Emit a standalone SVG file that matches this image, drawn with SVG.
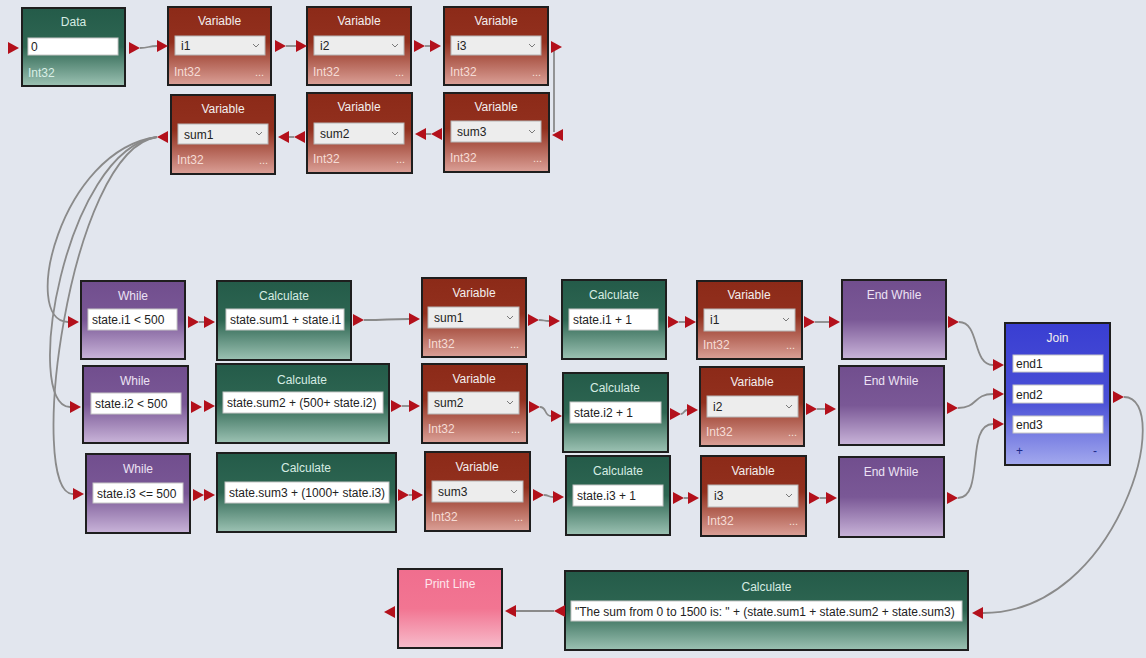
<svg xmlns="http://www.w3.org/2000/svg" xmlns:xlink="http://www.w3.org/1999/xlink" width="1146" height="658" viewBox="0 0 1146 658">
  <defs>
    <linearGradient id="gVar" x1="0" y1="0" x2="0" y2="1">
      <stop offset="0" stop-color="#8c2a18"/>
      <stop offset="0.45" stop-color="#92301e"/>
      <stop offset="1" stop-color="#dba097"/>
    </linearGradient>
    <linearGradient id="gCalc" x1="0" y1="0" x2="0" y2="1">
      <stop offset="0" stop-color="#245b49"/>
      <stop offset="0.5" stop-color="#2e6652"/>
      <stop offset="1" stop-color="#9cc2b3"/>
    </linearGradient>
    <linearGradient id="gWhile" x1="0" y1="0" x2="0" y2="1">
      <stop offset="0" stop-color="#714e8e"/>
      <stop offset="0.5" stop-color="#7a5896"/>
      <stop offset="1" stop-color="#c9b4d9"/>
    </linearGradient>
    <linearGradient id="gJoin" x1="0" y1="0" x2="0" y2="1">
      <stop offset="0" stop-color="#393ed2"/>
      <stop offset="0.55" stop-color="#4a50d6"/>
      <stop offset="1" stop-color="#a3a9ee"/>
    </linearGradient>
    <linearGradient id="gPrint" x1="0" y1="0" x2="0" y2="1">
      <stop offset="0" stop-color="#f06e8e"/>
      <stop offset="0.5" stop-color="#f27592"/>
      <stop offset="1" stop-color="#f7bccb"/>
    </linearGradient>
    <!-- port triangles: origin at left edge, vertical centre -->
    <path id="pr" d="M0,-6 L11,0 L0,6 Z" fill="#b3101b"/>
    <path id="pl" d="M0,0 L11,-6 L11,6 Z" fill="#b3101b"/>
    <style>
      text { font-family: "Liberation Sans", Arial, sans-serif; font-size: 12px; }
      .body { stroke: #1e1e1e; stroke-width: 2; }
      .var { fill: url(#gVar); }
      .calc { fill: url(#gCalc); }
      .loop { fill: url(#gWhile); }
      .join { fill: url(#gJoin); }
      .print { fill: url(#gPrint); }
      .title { text-anchor: middle; fill: #f3eeee; }
      .tcalc { fill: #d6ece3; }
      .tloop { fill: #ece2f4; }
      .tprint { fill: #fde6ec; }
      .box { fill: #ffffff; stroke: #c6c6c6; stroke-width: 1; }
      .dd { fill: #ededed; stroke: #b5b5b5; stroke-width: 1; }
      .val { fill: #222222; }
      .type { fill: #f6dcd5; }
      .typec { fill: #d9efe6; }
      .dots { fill: #f6e2dc; font-size: 11px; }
      .chev { fill: none; stroke: #7a7a7a; stroke-width: 1; }
      .wire { fill: none; stroke: #8a8a8a; stroke-width: 1.8; }
      .pm { fill: #1e2a8a; font-size: 12px; }
    </style>
  </defs>

  <rect x="0" y="0" width="1146" height="658" fill="#e2e6ee"/>

  <!-- connectors -->
  <g id="connectors">
    <path class="wire" d="M140,48 C149,48 148,46 157,46"/>
    <path class="wire" d="M286,46 L296,46"/>
    <path class="wire" d="M425,46 L430,46"/>
    <path class="wire" d="M554,50 L554,132"/>
    <path class="wire" d="M426,134 L431,134"/>
    <path class="wire" d="M289,137 L294,137"/>
    <!-- sum1 feeds the three loops -->
    <path class="wire" d="M157,137 C60,150 20,322 68,322"/>
    <path class="wire" d="M157,137 C64,150 22,407 70,407"/>
    <path class="wire" d="M157,137 C68,150 26,494 73,494"/>
    <!-- loop 1 -->
    <path class="wire" d="M199,322 L204,322"/>
    <path class="wire" d="M364,320 C388,320 386,319 409,319"/>
    <path class="wire" d="M539,320 C545,320 543,321 549,321"/>
    <path class="wire" d="M679,322 L685,322"/>
    <path class="wire" d="M815,322 L829,322"/>
    <path class="wire" d="M959,322 C980,322 972,365 993,365"/>
    <!-- loop 2 -->
    <path class="wire" d="M402,406 L409,406"/>
    <path class="wire" d="M540,407 C547,407 544,416 551,416"/>
    <path class="wire" d="M681,414 C684,414 684,410 687,410"/>
    <path class="wire" d="M817,409 L825,409"/>
    <path class="wire" d="M958,408 C978,408 973,394 993,394"/>
    <!-- loop 3 -->
    <path class="wire" d="M409,495 L412,495"/>
    <path class="wire" d="M544,495 C549,495 548,497 553,497"/>
    <path class="wire" d="M684,498 L688,498"/>
    <path class="wire" d="M820,498 L826,498"/>
    <path class="wire" d="M958,498 C985,498 965,424 993,424"/>
    <!-- join to result -->
    <path class="wire" d="M1124,397 C1175,397 1120,613 983,613"/>
    <path class="wire" d="M516,611 C535,611 535,611 554,611"/>
  </g>

  <!-- top row -->
  <g id="data">
    <rect class="body calc" x="22" y="8" width="103" height="78"/>
    <text class="title tcalc" x="73.5" y="26">Data</text>
    <rect class="box" x="28" y="38" width="90" height="17"/>
    <text class="val" x="31" y="51">0</text>
    <text class="typec" x="28" y="77">Int32</text>
    <use href="#pr" x="8" y="48"/>
    <use href="#pr" x="129" y="48"/>
  </g>
  <g id="var-i1">
    <rect class="body var" x="168" y="7" width="103" height="78"/>
    <text class="title" x="219.5" y="25">Variable</text>
    <rect class="dd" x="175" y="36" width="90" height="19"/>
    <text class="val" x="181" y="50">i1</text>
    <polyline class="chev" points="253,44 256,47 259,44"/>
    <text class="type" x="174" y="76">Int32</text>
    <text class="dots" x="255" y="76">...</text>
    <use href="#pr" x="157" y="46"/>
    <use href="#pr" x="275" y="46"/>
  </g>
  <g id="var-i2">
    <rect class="body var" x="307" y="7" width="104" height="78"/>
    <text class="title" x="359" y="25">Variable</text>
    <rect class="dd" x="314" y="36" width="90" height="19"/>
    <text class="val" x="320" y="50">i2</text>
    <polyline class="chev" points="392,44 395,47 398,44"/>
    <text class="type" x="313" y="76">Int32</text>
    <text class="dots" x="395" y="76">...</text>
    <use href="#pr" x="296" y="46"/>
    <use href="#pr" x="414" y="46"/>
  </g>
  <g id="var-i3">
    <rect class="body var" x="444" y="7" width="104" height="78"/>
    <text class="title" x="496" y="25">Variable</text>
    <rect class="dd" x="451" y="36" width="90" height="19"/>
    <text class="val" x="457" y="50">i3</text>
    <polyline class="chev" points="529,44 532,47 535,44"/>
    <text class="type" x="450" y="76">Int32</text>
    <text class="dots" x="532" y="76">...</text>
    <use href="#pr" x="430" y="46"/>
    <use href="#pr" x="551" y="47"/>
  </g>

  <!-- second row, flowing right to left -->
  <g id="var-sum3">
    <rect class="body var" x="444" y="93" width="105" height="79"/>
    <text class="title" x="496" y="111">Variable</text>
    <rect class="dd" x="451" y="121" width="90" height="21"/>
    <text class="val" x="457" y="136">sum3</text>
    <polyline class="chev" points="529,130 532,133 535,130"/>
    <text class="type" x="450" y="162">Int32</text>
    <text class="dots" x="533" y="162">...</text>
    <use href="#pl" x="552" y="135"/>
    <use href="#pl" x="431" y="134"/>
  </g>
  <g id="var-sum2">
    <rect class="body var" x="307" y="93" width="105" height="80"/>
    <text class="title" x="359" y="111">Variable</text>
    <rect class="dd" x="314" y="123" width="90" height="21"/>
    <text class="val" x="320" y="138">sum2</text>
    <polyline class="chev" points="392,132 395,135 398,132"/>
    <text class="type" x="313" y="163">Int32</text>
    <text class="dots" x="396" y="163">...</text>
    <use href="#pl" x="415" y="134"/>
    <use href="#pl" x="294" y="137"/>
  </g>
  <g id="var-sum1">
    <rect class="body var" x="171" y="95" width="104" height="79"/>
    <text class="title" x="223" y="113">Variable</text>
    <rect class="dd" x="178" y="124" width="90" height="20"/>
    <text class="val" x="184" y="139">sum1</text>
    <polyline class="chev" points="256,132 259,135 262,132"/>
    <text class="type" x="177" y="164">Int32</text>
    <text class="dots" x="259" y="164">...</text>
    <use href="#pl" x="278" y="137"/>
    <use href="#pl" x="157" y="137"/>
  </g>

  <!-- loop 1 -->
  <g id="while1">
    <rect class="body loop" x="81" y="281" width="104" height="78"/>
    <text class="title tloop" x="133" y="300">While</text>
    <rect class="box" x="88" y="309" width="89" height="21"/>
    <text class="val" x="92" y="324">state.i1 &lt; 500</text>
    <use href="#pr" x="68" y="322"/>
    <use href="#pr" x="188" y="322"/>
  </g>
  <g id="calc1">
    <rect class="body calc" x="217" y="281" width="134" height="79"/>
    <text class="title tcalc" x="284" y="300">Calculate</text>
    <rect class="box" x="226" y="309" width="118" height="21"/>
    <text class="val" x="230" y="324">state.sum1 + state.i1</text>
    <use href="#pr" x="204" y="322"/>
    <use href="#pr" x="353" y="320"/>
  </g>
  <g id="set-sum1">
    <rect class="body var" x="422" y="278" width="104" height="79"/>
    <text class="title" x="474" y="297">Variable</text>
    <rect class="dd" x="428" y="307" width="91" height="21"/>
    <text class="val" x="434" y="322">sum1</text>
    <polyline class="chev" points="507,316 510,319 513,316"/>
    <text class="type" x="428" y="348">Int32</text>
    <text class="dots" x="510" y="348">...</text>
    <use href="#pr" x="409" y="319"/>
    <use href="#pr" x="528" y="320"/>
  </g>
  <g id="inc1">
    <rect class="body calc" x="562" y="280" width="104" height="79"/>
    <text class="title tcalc" x="614" y="299">Calculate</text>
    <rect class="box" x="569" y="309" width="89" height="21"/>
    <text class="val" x="573" y="324">state.i1 + 1</text>
    <use href="#pr" x="549" y="321"/>
    <use href="#pr" x="668" y="322"/>
  </g>
  <g id="set-i1">
    <rect class="body var" x="697" y="281" width="105" height="78"/>
    <text class="title" x="749" y="299">Variable</text>
    <rect class="dd" x="704" y="309" width="91" height="22"/>
    <text class="val" x="710" y="324">i1</text>
    <polyline class="chev" points="783,318 786,321 789,318"/>
    <text class="type" x="703" y="349">Int32</text>
    <text class="dots" x="786" y="349">...</text>
    <use href="#pr" x="685" y="322"/>
    <use href="#pr" x="804" y="322"/>
  </g>
  <g id="endwhile1">
    <rect class="body loop" x="842" y="280" width="104" height="79"/>
    <text class="title tloop" x="894" y="299">End While</text>
    <use href="#pr" x="829" y="322"/>
    <use href="#pr" x="948" y="322"/>
  </g>

  <!-- loop 2 -->
  <g id="while2">
    <rect class="body loop" x="83" y="366" width="105" height="77"/>
    <text class="title tloop" x="135" y="385">While</text>
    <rect class="box" x="91" y="393" width="90" height="21"/>
    <text class="val" x="95" y="408">state.i2 &lt; 500</text>
    <use href="#pr" x="70" y="407"/>
    <use href="#pr" x="191" y="407"/>
  </g>
  <g id="calc2">
    <rect class="body calc" x="216" y="364" width="173" height="79"/>
    <text class="title tcalc" x="302" y="384">Calculate</text>
    <rect class="box" x="223" y="392" width="160" height="21"/>
    <text class="val" x="227" y="407">state.sum2 + (500+ state.i2)</text>
    <use href="#pr" x="204" y="406"/>
    <use href="#pr" x="391" y="406"/>
  </g>
  <g id="set-sum2">
    <rect class="body var" x="422" y="364" width="105" height="79"/>
    <text class="title" x="474" y="383">Variable</text>
    <rect class="dd" x="428" y="392" width="91" height="22"/>
    <text class="val" x="434" y="407">sum2</text>
    <polyline class="chev" points="507,401 510,404 513,401"/>
    <text class="type" x="428" y="433">Int32</text>
    <text class="dots" x="511" y="433">...</text>
    <use href="#pr" x="409" y="406"/>
    <use href="#pr" x="529" y="407"/>
  </g>
  <g id="inc2">
    <rect class="body calc" x="563" y="373" width="105" height="79"/>
    <text class="title tcalc" x="615" y="392">Calculate</text>
    <rect class="box" x="570" y="402" width="91" height="21"/>
    <text class="val" x="574" y="417">state.i2 + 1</text>
    <use href="#pr" x="551" y="416"/>
    <use href="#pr" x="670" y="414"/>
  </g>
  <g id="set-i2">
    <rect class="body var" x="700" y="367" width="104" height="79"/>
    <text class="title" x="752" y="386">Variable</text>
    <rect class="dd" x="707" y="396" width="91" height="21"/>
    <text class="val" x="713" y="411">i2</text>
    <polyline class="chev" points="786,405 789,408 792,405"/>
    <text class="type" x="706" y="436">Int32</text>
    <text class="dots" x="788" y="436">...</text>
    <use href="#pr" x="687" y="410"/>
    <use href="#pr" x="806" y="409"/>
  </g>
  <g id="endwhile2">
    <rect class="body loop" x="839" y="366" width="105" height="79"/>
    <text class="title tloop" x="891" y="385">End While</text>
    <use href="#pr" x="825" y="409"/>
    <use href="#pr" x="947" y="408"/>
  </g>

  <!-- loop 3 -->
  <g id="while3">
    <rect class="body loop" x="86" y="454" width="104" height="79"/>
    <text class="title tloop" x="138" y="473">While</text>
    <rect class="box" x="93" y="483" width="90" height="20"/>
    <text class="val" x="97" y="498">state.i3 &lt;= 500</text>
    <use href="#pr" x="73" y="494"/>
    <use href="#pr" x="193" y="495"/>
  </g>
  <g id="calc3">
    <rect class="body calc" x="217" y="453" width="179" height="79"/>
    <text class="title tcalc" x="306" y="472">Calculate</text>
    <rect class="box" x="225" y="482" width="164" height="21"/>
    <text class="val" x="229" y="497">state.sum3 + (1000+ state.i3)</text>
    <use href="#pr" x="204" y="495"/>
    <use href="#pr" x="398" y="495"/>
  </g>
  <g id="set-sum3">
    <rect class="body var" x="425" y="452" width="105" height="79"/>
    <text class="title" x="477" y="471">Variable</text>
    <rect class="dd" x="432" y="481" width="91" height="21"/>
    <text class="val" x="438" y="496">sum3</text>
    <polyline class="chev" points="511,490 514,493 517,490"/>
    <text class="type" x="431" y="521">Int32</text>
    <text class="dots" x="514" y="521">...</text>
    <use href="#pr" x="412" y="495"/>
    <use href="#pr" x="533" y="495"/>
  </g>
  <g id="inc3">
    <rect class="body calc" x="566" y="456" width="104" height="79"/>
    <text class="title tcalc" x="618" y="475">Calculate</text>
    <rect class="box" x="573" y="485" width="90" height="21"/>
    <text class="val" x="577" y="500">state.i3 + 1</text>
    <use href="#pr" x="553" y="497"/>
    <use href="#pr" x="673" y="498"/>
  </g>
  <g id="set-i3">
    <rect class="body var" x="701" y="456" width="105" height="80"/>
    <text class="title" x="753" y="475">Variable</text>
    <rect class="dd" x="708" y="485" width="90" height="22"/>
    <text class="val" x="714" y="500">i3</text>
    <polyline class="chev" points="786,494 789,497 792,494"/>
    <text class="type" x="707" y="525">Int32</text>
    <text class="dots" x="789" y="525">...</text>
    <use href="#pr" x="688" y="498"/>
    <use href="#pr" x="809" y="498"/>
  </g>
  <g id="endwhile3">
    <rect class="body loop" x="839" y="457" width="105" height="80"/>
    <text class="title tloop" x="891" y="476">End While</text>
    <use href="#pr" x="826" y="498"/>
    <use href="#pr" x="947" y="498"/>
  </g>

  <!-- join -->
  <g id="join">
    <rect class="body join" x="1005" y="323" width="105" height="142"/>
    <text class="title" x="1057.5" y="342" fill="#e6e8ff">Join</text>
    <rect class="box" x="1013" y="355" width="90" height="17"/>
    <text class="val" x="1016" y="368">end1</text>
    <rect class="box" x="1013" y="385" width="90" height="18"/>
    <text class="val" x="1016" y="399">end2</text>
    <rect class="box" x="1013" y="416" width="90" height="17"/>
    <text class="val" x="1016" y="429">end3</text>
    <text class="pm" x="1016" y="455">+</text>
    <text class="pm" x="1093" y="455">-</text>
    <use href="#pr" x="993" y="365"/>
    <use href="#pr" x="993" y="394"/>
    <use href="#pr" x="993" y="424"/>
    <use href="#pr" x="1113" y="397"/>
  </g>

  <!-- bottom row, flowing right to left -->
  <g id="calc-result">
    <rect class="body calc" x="565" y="571" width="403" height="79"/>
    <text class="title tcalc" x="766.5" y="591">Calculate</text>
    <rect class="box" x="571" y="601" width="391" height="20"/>
    <text class="val" x="575" y="616">"The sum from 0 to 1500 is: " + (state.sum1 + state.sum2 + state.sum3)</text>
    <use href="#pl" x="972" y="613"/>
    <use href="#pl" x="554" y="611"/>
  </g>
  <g id="print-line">
    <rect class="body print" x="398" y="569" width="104" height="79"/>
    <text class="title tprint" x="450" y="588">Print Line</text>
    <use href="#pl" x="505" y="611"/>
    <use href="#pl" x="384" y="612"/>
  </g>
</svg>
